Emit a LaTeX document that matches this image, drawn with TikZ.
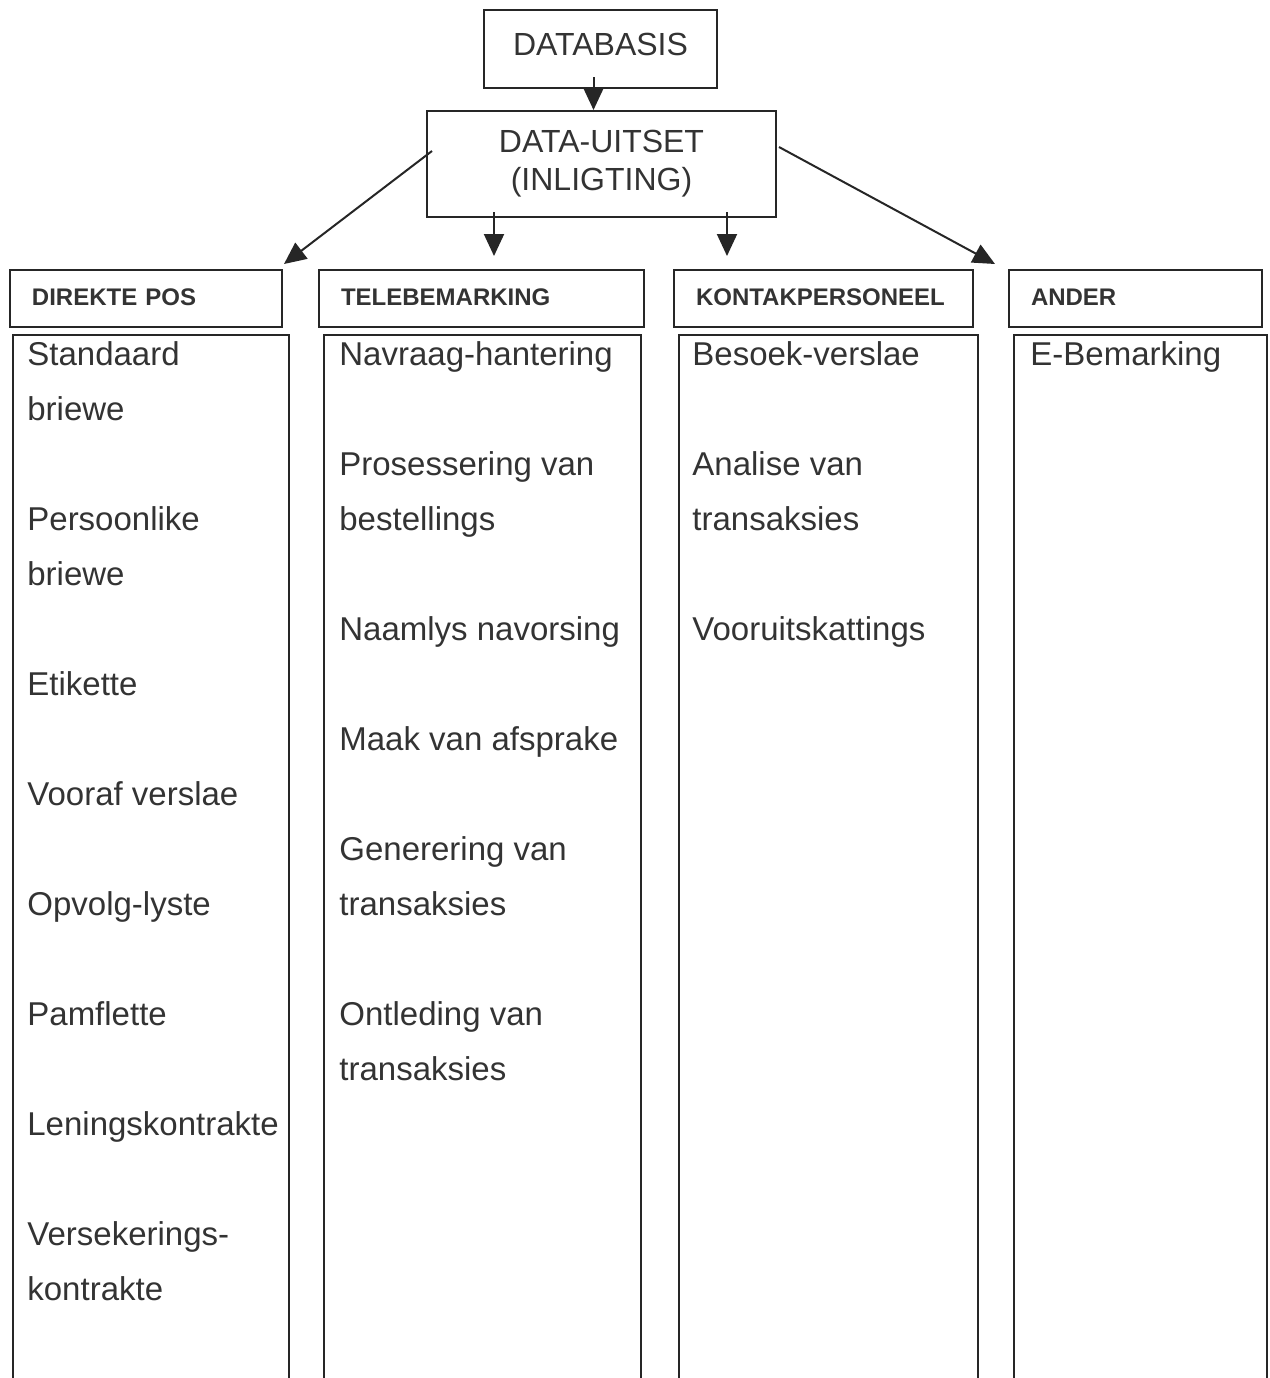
\documentclass[tikz,border=0pt]{standalone}
\usepackage{fontspec}
\setmainfont{Liberation Sans}
\usetikzlibrary{arrows.meta,positioning}

\tikzset{
  box/.style={draw=black!85,line width=1pt,text=black!80},
  arr/.style={draw=black!85,line width=1pt,-{Triangle[length=11pt,width=10pt]}},
  item/.style={anchor=base west,inner sep=0pt,align=left,text=black!80,
    font=\fontsize{16.5}{27.5}\selectfont}
}

\begin{document}
\begin{tikzpicture}[x=0.5pt,y=-0.5pt]
    \useasboundingbox (0,0) rectangle (1270,1378);
    \clip (0,0) rectangle (1270,1378);

    %Top
    \begin{scope}[every node/.style={box,align=center,font=\fontsize{16}{19}\selectfont}]
      \node[minimum width=116.5pt,minimum height=39pt] (db) at (600.5,49) {\raisebox{5pt}{DATABASIS}};
      \node[minimum width=174.5pt,minimum height=53pt] (uit) at (601.5,164) {DATA-UITSET\\(INLIGTING)};
    \end{scope}

    %Headers
    \begin{scope}[every node/.style={box,minimum height=28.5pt,inner xsep=11pt,align=left,
       font=\bfseries\fontsize{12}{14}\selectfont}]
      \node[text width=114pt] (dp) at (146,298.5) {\raisebox{1.5pt}{DIREKTE POS}};
      \node[text width=140.5pt] (tele) at (481.5,298.5) {\raisebox{1.5pt}{TELEBEMARKING}};
      \node[text width=127.5pt] (kontak) at (823.5,298.5) {\raisebox{1.5pt}{KONTAKPERSONEEL}};
      \node[text width=104.5pt] (ander) at (1135.5,298.5) {\raisebox{1.5pt}{ANDER}};
    \end{scope}

    %Lists
    \begin{scope}[every node/.style={box,inner sep=0pt,minimum height=542.5pt}]
      \node[minimum width=138pt] (l1) at (151,877.5) {};
      \node[minimum width=158.5pt] (l2) at (482.5,877.5) {};
      \node[minimum width=149.5pt] (l3) at (828.5,877.5) {};
      \node[minimum width=126.5pt] (l4) at (1140.5,877.5) {};
    \end{scope}

    % base of a two-line item = its last line
    \begin{scope}[every node/.style={item}]
      \node (std) at (27,420) {Standaard\\briewe};
      \node (pers) at (27,585) {Persoonlike\\briewe};
      \node (etik) at (27,695) {Etikette};
      \node (voor) at (27,805) {Vooraf verslae};
      \node (opv) at (27,915) {Opvolg-lyste};
      \node (pamf) at (27,1025) {Pamflette};
      \node (len) at (27,1135) {Leningskontrakte};
      \node (vers) at (27,1300) {Versekerings-\\kontrakte};

      \node (navr) at (339,365) {Navraag-hantering};
      \node (pros) at (339,530) {Prosessering van\\bestellings};
      \node (naam) at (339,640) {Naamlys navorsing};
      \node (maak) at (339,750) {Maak van afsprake};
      \node (gen) at (339,915) {Generering van\\transaksies};
      \node (ontl) at (339,1080) {Ontleding van\\transaksies};

      \node (bes) at (692,365) {Besoek-verslae};
      \node (anal) at (692,530) {Analise van\\transaksies};
      \node (vooruit) at (692,640) {Vooruitskattings};

      \node (ebem) at (1030,365) {E-Bemarking};
    \end{scope}

    %Arrows
    \coordinate (dbin) at ([shift={(-7,-12)}]db.south);
    \draw[arr] (dbin) -- (dbin |- uit.north);
    \draw[arr] ([shift={(6,-13)}]uit.west) -- ([shift={(1,-5)}]dp.north east);
    \draw[arr] ([shift={(2,-17)}]uit.east) -- ([shift={(-13,-5)}]ander.north west);
    \coordinate (ut) at ([shift={(-107.5,-6)}]uit.south);
    \coordinate (uk) at ([shift={(125.5,-6)}]uit.south);
    \draw[arr,shorten >=6.5pt] (ut) -- (ut |- tele.north);
    \draw[arr,shorten >=6.5pt] (uk) -- (uk |- kontak.north);
\end{tikzpicture}
\end{document}
